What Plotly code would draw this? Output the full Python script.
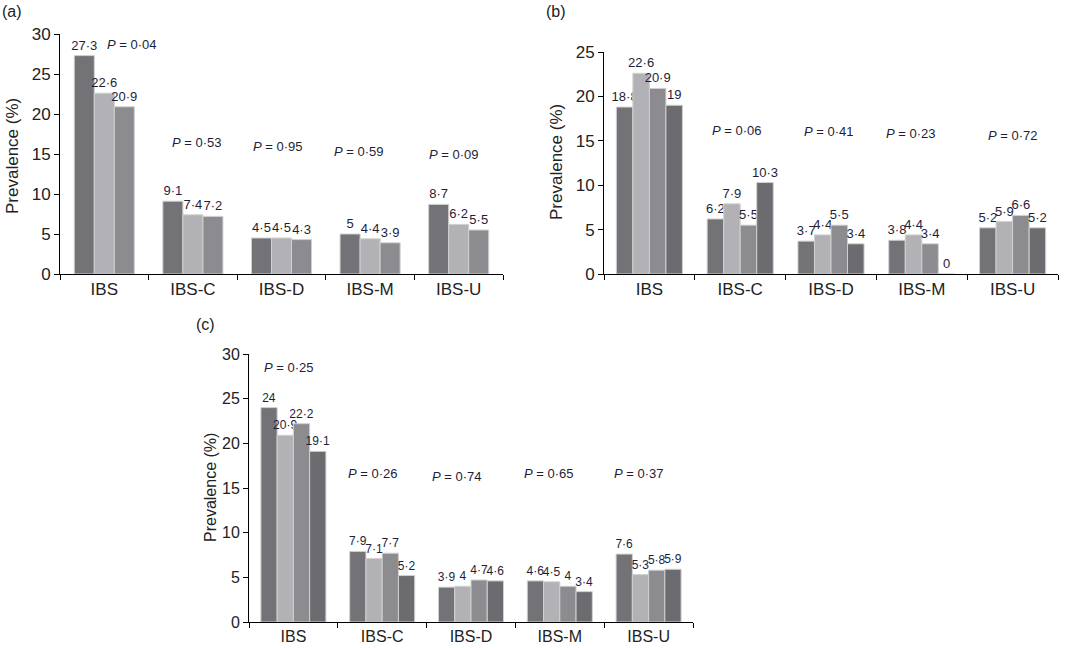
import plotly.graph_objects as go

# categories shared by the three panels
categories = ["IBS", "IBS-C", "IBS-D", "IBS-M", "IBS-U"]

# panel (a): three groups
a_group1 = [27.3, 9.1, 4.5, 5, 8.7]
a_group2 = [22.6, 7.4, 4.5, 4.4, 6.2]
a_group3 = [20.9, 7.2, 4.3, 3.9, 5.5]
a_pvalues = ["0·04", "0·53", "0·95", "0·59", "0·09"]

# panel (b): four groups
b_group1 = [18.8, 6.2, 3.7, 3.8, 5.2]
b_group2 = [22.6, 7.9, 4.4, 4.4, 5.9]
b_group3 = [20.9, 5.5, 5.5, 3.4, 6.6]
b_group4 = [19, 10.3, 3.4, 0, 5.2]
b_pvalues = ["0·11", "0·06", "0·41", "0·23", "0·72"]

# panel (c): four groups
c_group1 = [24, 7.9, 3.9, 4.6, 7.6]
c_group2 = [20.9, 7.1, 4, 4.5, 5.3]
c_group3 = [22.2, 7.7, 4.7, 4, 5.8]
c_group4 = [19.1, 5.2, 4.6, 3.4, 5.9]
c_pvalues = ["0·25", "0·26", "0·74", "0·65", "0·37"]

colors = ["#737377", "#b2b2b6", "#8c8c90", "#6c6c70"]
font = "Liberation Sans, Arial, sans-serif"
text_col = "#1e1e38"


def fmt(v):
    return f"{v:g}".replace(".", "·")


fig = go.Figure()

# panel (c) text is a bit squeezed in the original, so slightly smaller fonts there
panels = [
    ("", [a_group1, a_group2, a_group3], 0.226, a_pvalues, 13, 17),
    ("2", [b_group1, b_group2, b_group3, b_group4], 0.182, b_pvalues, 13, 17),
    ("3", [c_group1, c_group2, c_group3, c_group4], 0.183, c_pvalues, 12, 16),
]

for suffix, groups, w, pvals, small, big in panels:
    total = w * len(groups)
    for i, vals in enumerate(groups):
        fig.add_trace(go.Bar(
            x=categories, y=vals, name=f"Group {i + 1}",
            xaxis="x" + suffix, yaxis="y" + suffix,
            width=w, offset=-total / 2 + i * w,
            marker=dict(color=colors[i], line=dict(color="#d0d0d0", width=1)),
            text=[fmt(v) for v in vals], textposition="outside",
            cliponaxis=False, constraintext="none",
            textfont=dict(size=small, color=text_col, family=font),
            showlegend=False,
        ))

# P value label placement (y in data units, x shift in px)
p_place = {
    "": ([28.7, 16.5, 15.9, 15.3, 14.9], [28, 4, -4, -11, -5]),
    "2": ([26.0, 16.2, 16.0, 15.8, 15.6], [11, -3, -2, -11, 0]),
    "3": ([28.5, 16.6, 16.3, 16.6, 16.6], [-4, -9, -14, -11, -10]),
}
annotations = []
for suffix, groups, w, pvals, small, big in panels:
    ys, shifts = p_place[suffix]
    for cat, p, yv, sh in zip(categories, pvals, ys, shifts):
        annotations.append(dict(
            x=cat, y=yv, xref="x" + suffix, yref="y" + suffix,
            text=f"<i>P</i> = {p}", showarrow=False, xshift=sh,
            font=dict(size=13, color=text_col, family=font),
        ))

# panel letters and y titles
for lbl, px, py in [("(a)", 12, 12), ("(b)", 556, 12), ("(c)", 205, 324)]:
    annotations.append(dict(x=px / 1075, y=1 - py / 648, xref="paper", yref="paper",
                            xanchor="center", yanchor="middle",
                            text=lbl, showarrow=False,
                            font=dict(size=16, color="#222", family=font)))
for px, py, size in [(13, 156, 17), (556, 162, 17), (210, 488, 16)]:
    annotations.append(dict(x=px / 1075, y=1 - py / 648, xref="paper", yref="paper",
                            xanchor="center", yanchor="middle",
                            text="Prevalence (%)", showarrow=False, textangle=-90,
                            font=dict(size=size, color="#222", family=font)))


def xax(size):
    return dict(showline=True, linecolor="black", linewidth=1, ticks="outside",
                tickson="boundaries", ticklen=5, tickcolor="black", automargin=False,
                tickfont=dict(size=size, color="#222", family=font), showgrid=False,
                range=[-0.5, 4.5])


def yax(size):
    return dict(showline=True, linecolor="black", linewidth=1, ticks="outside",
                ticklen=5, tickcolor="black", dtick=5, showgrid=False, zeroline=False,
                automargin=False, tickfont=dict(size=size, color="#222", family=font))


fig.update_layout(
    template="none",
    width=1075, height=648,
    margin=dict(l=0, r=0, t=0, b=0, pad=0, autoexpand=False),
    plot_bgcolor="white", paper_bgcolor="white",
    barmode="group",
    xaxis=dict(xax(17), domain=[60 / 1075, 503 / 1075], anchor="y"),
    yaxis=dict(yax(17), domain=[1 - 274 / 648, 1 - 34 / 648], range=[0, 30], anchor="x"),
    xaxis2=dict(xax(17), domain=[604 / 1075, 1058 / 1075], anchor="y2"),
    yaxis2=dict(yax(17), domain=[1 - 274 / 648, 1 - 52 / 648], range=[0, 25], anchor="x2"),
    xaxis3=dict(xax(16), domain=[249 / 1075, 693 / 1075], anchor="y3"),
    yaxis3=dict(yax(16), domain=[1 - 622 / 648, 1 - 354 / 648], range=[0, 30], anchor="x3"),
    annotations=annotations,
)

# drop the default 8px body margin so the figure sits at the page corner
fig.write_html("out.html", config={"displayModeBar": False},
               post_script="document.body.style.margin='0';")
